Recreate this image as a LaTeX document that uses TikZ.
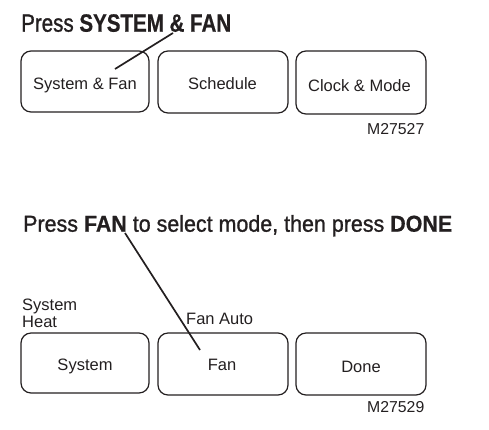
\documentclass[tikz,border=0pt]{standalone}
\usepackage{fontspec}
\usepackage{graphicx}
\setmainfont{Liberation Sans}
\newfontfamily\ttlfont[FakeBold=1.2, BoldFeatures={FakeBold=0.6}]{Liberation Sans}
\definecolor{ink}{HTML}{231F20}
\begin{document}
\begin{tikzpicture}[x=1pt,y=-1pt,
  btn/.style={draw=ink, line width=1.2pt, rounded corners=10pt},
  lbl/.style={inner sep=0pt, text=ink, font=\fontsize{16.5}{19}\selectfont},
  code/.style={inner sep=0pt, text=ink, font=\fontsize{15.8}{18}\selectfont, anchor=base west},
  ttl/.style={inner sep=0pt, anchor=base west, text=ink, font=\ttlfont},
  pointer/.style={draw=ink, line width=1.7pt}]
\useasboundingbox (0,0) rectangle (489,429);
% ---- top panel ----
\node[ttl] (t1) at (21,31.7)
  {\resizebox{210pt}{17.5pt}{Press \textbf{SYSTEM \& FAN}}};
\draw[btn] (21,51) rectangle (149,112);
\draw[btn] (158,51) rectangle (288,113);
\draw[btn] (296,51) rectangle (426,114);
\node[lbl, anchor=base] (s1) at (85,89.3) {System \& Fan};
\node[lbl, anchor=base] (s2) at (222.5,89.3) {Schedule};
\node[lbl, anchor=base] (s3) at (359.5,91.7) {Clock \& Mode};
\node[code] (m1) at (367,134.3) {M27527};
\coordinate (p1a) at (173,33);
\coordinate (p1b) at (115,69);
\draw[pointer] (p1a) -- (p1b);
% ---- bottom panel ----
\node[ttl] (t2) at (23,231.7)
  {\resizebox{429pt}{16.7pt}{Press \textbf{FAN} to select mode, then press \textbf{DONE}}};
\node[lbl, anchor=base west] (l1) at (22,310) {System};
\node[lbl, anchor=base west] (l2) at (22,327.7) {Heat};
\node[lbl, anchor=base west] (l3) at (186,324) {Fan Auto};
\draw[btn] (21,333) rectangle (149,393);
\draw[btn] (158,333) rectangle (288,395);
\draw[btn] (296,333) rectangle (426,395);
\node[lbl, anchor=base] (c1) at (85,370.7) {System};
\node[lbl, anchor=base] (c2) at (222,370) {Fan};
\node[lbl, anchor=base] (c3) at (361,372.3) {Done};
\node[code] (m2) at (367,412.3) {M27529};
\coordinate (p2a) at (125,233);
\coordinate (p2b) at (200,350);
\draw[pointer] (p2a) -- (p2b);
\end{tikzpicture}
\end{document}
